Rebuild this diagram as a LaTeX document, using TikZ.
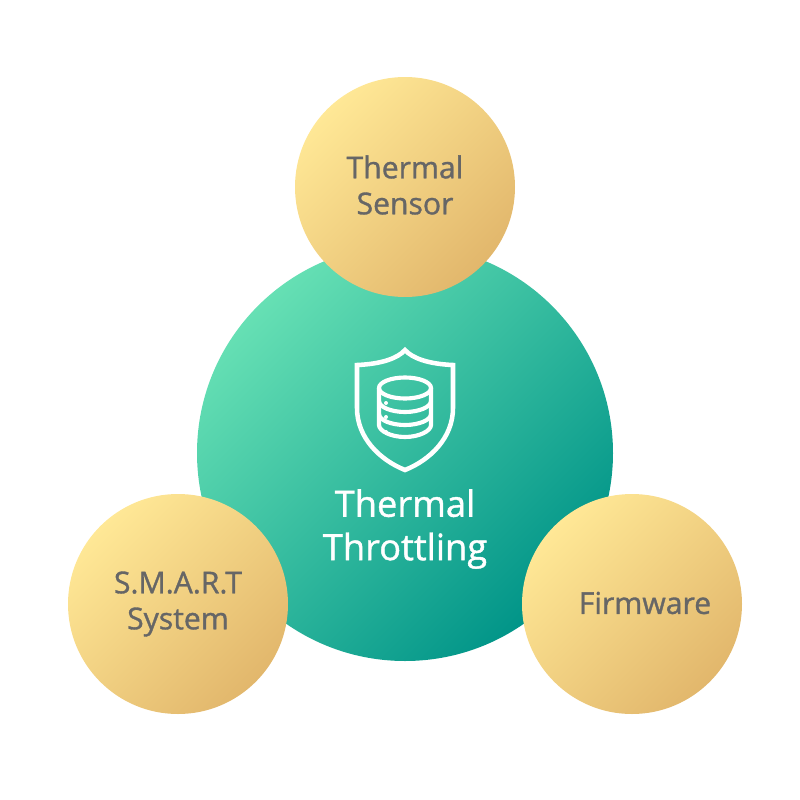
\documentclass[tikz,border=0pt]{standalone}
\usepackage{fontspec}
\setmainfont{Open Sans}
\newfontfamily\heavyfont[FakeBold=1.1]{Open Sans}
\definecolor{gold1}{HTML}{FFE896}
\definecolor{gold2}{HTML}{E2B76C}
\definecolor{green1}{HTML}{66E0B4}
\definecolor{green2}{HTML}{009488}
\definecolor{labelgray}{HTML}{666666}
\tikzset{
 goldball/.style={circle,minimum size=165pt,inner sep=0pt,top color=gold1,bottom color=gold2,shading angle=45},
 greenball/.style={circle,minimum size=312pt,inner sep=0pt,top color=green1,bottom color=green2,shading angle=45},
 balltext/.style={text=labelgray,align=center,inner sep=0pt,font=\heavyfont\fontsize{22.6}{27}\selectfont},
 titletext/.style={text=white,align=center,inner sep=0pt,font=\heavyfont\fontsize{27.2}{32.5}\selectfont},
 iconline/.style={draw=white,line width=3.4pt,line join=miter},
 iconthin/.style={draw=white,line width=3.1pt,line join=round},
}
\begin{document}
\begin{tikzpicture}[x=0.75pt,y=-0.75pt]
\useasboundingbox (0,0) rectangle (800,800);
\node[greenball] (core) at (405,453) {};
\node[goldball] (sensor) at (405,187) {};
\node[goldball] (smart) at (178,604) {};
\node[goldball] (firm) at (632,604) {};
\node[balltext] (sensorlabel) at (405,185) {Thermal\\Sensor};
\node[balltext] (smartlabel) at (178,604) {S.M.A.R.T\\System};
\node[balltext] (firmlabel) at (645,603) {Firmware};
\node[titletext] (title) at (405,529) {Thermal\\Throttling};
% shield
\draw[iconline] (405,350) .. controls (398,358) and (382,364) .. (357,365)
  -- (357,408) .. controls (357,438) and (380,460) .. (405,470)
  .. controls (430,460) and (453,438) .. (453,408) -- (453,365)
  .. controls (428,364) and (412,358) .. (405,350) -- cycle;
% database
\draw[iconthin] (405,388) ellipse [x radius=26,y radius=10.5];
\draw[iconthin] (379,388) -- (379,425) .. controls (379,431) and (391,437) .. (405,437) .. controls (419,437) and (431,431) .. (431,425) -- (431,388);
\draw[iconthin] (379,401) .. controls (379,407) and (391,412) .. (405,412) .. controls (419,412) and (431,407) .. (431,401);
\draw[iconthin] (379,414) .. controls (379,420) and (391,425) .. (405,425) .. controls (419,425) and (431,420) .. (431,414);
\fill[white] (386,403) circle (2) (386,417) circle (2) (386,432) circle (2);
\end{tikzpicture}
\end{document}
